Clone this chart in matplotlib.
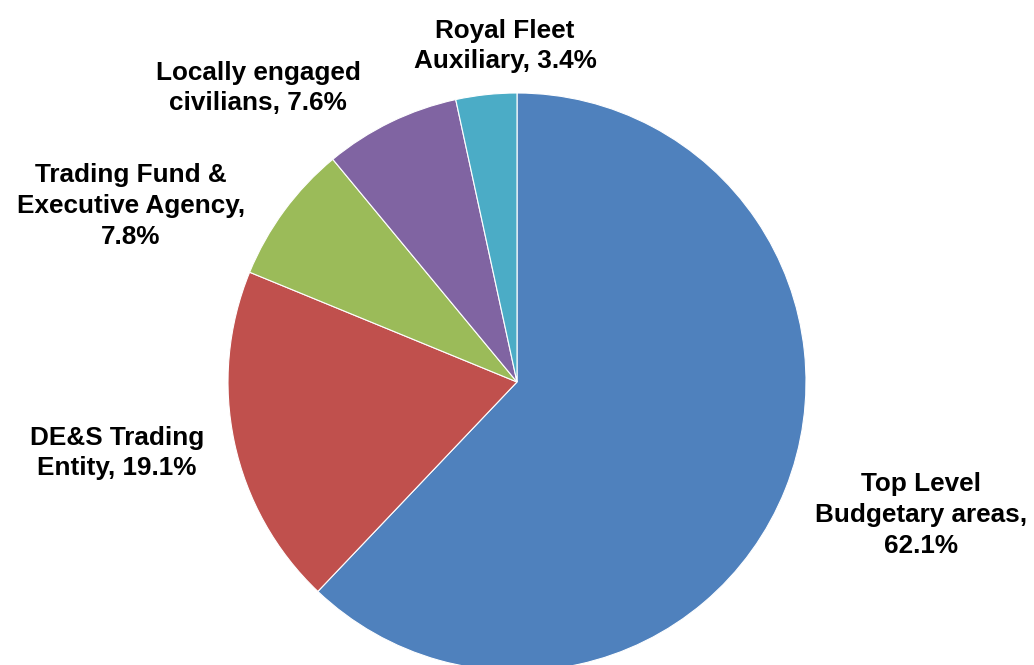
import matplotlib.pyplot as plt

labels = ['Top Level\nBudgetary areas,\n62.1%',
          'DE&S Trading\nEntity, 19.1%',
          'Trading Fund &\nExecutive Agency,\n7.8%',
          'Locally engaged\ncivilians, 7.6%',
          'Royal Fleet\nAuxiliary, 3.4%']
shares = [62.1, 19.1, 7.8, 7.6, 3.4]
colors = ['#4F81BD', '#C0504D', '#9BBB59', '#8064A2', '#4BACC6']

# label centres in pixel space (y measured from the top)
label_pos = [(921, 515), (117, 453), (131, 206), (258, 88), (505, 46)]

W, H = 1034, 665
fig = plt.figure(figsize=(W / 100, H / 100), dpi=100)
ax = fig.add_axes([0, 0, 1, 1])

cx, cy, r = 517, H - 382, 289
ax.pie(shares, colors=colors, startangle=90, counterclock=False,
       center=(cx, cy), radius=r, frame=True,
       wedgeprops=dict(edgecolor='white', linewidth=0.8))
ax.set_xlim(0, W)
ax.set_ylim(0, H)
ax.set_aspect('equal')
ax.axis('off')

for txt, (x, y) in zip(labels, label_pos):
    ax.text(x, H - y, txt, ha='center', va='center', multialignment='center',
            fontsize=18.8, fontweight='bold',
            family=['Liberation Sans', 'DejaVu Sans'],
            linespacing=1.36)

fig.savefig('out.png', dpi=100)
